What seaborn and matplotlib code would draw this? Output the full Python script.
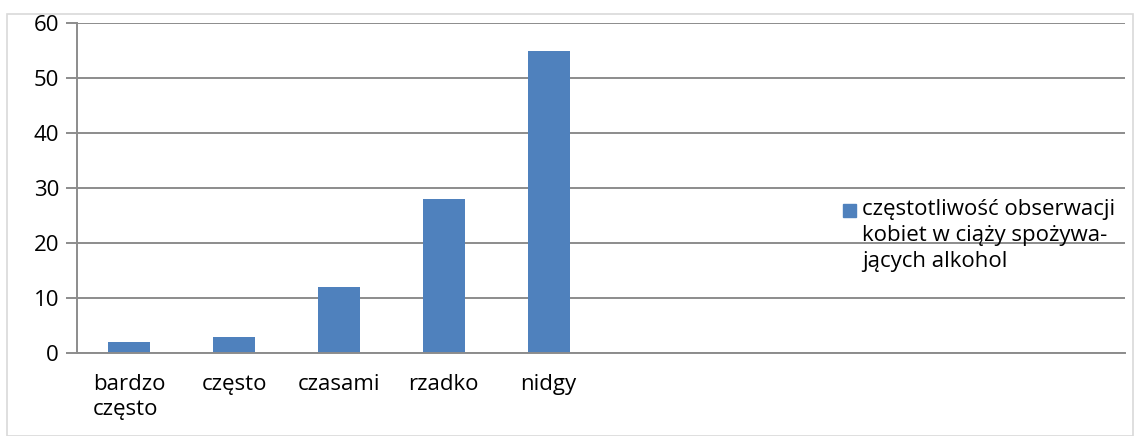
import matplotlib
matplotlib.use("Agg")
import matplotlib.pyplot as plt
import matplotlib.patches as mpatches
import seaborn as sns
import pandas as pd
import numpy as np

# ==============================
# DATA
# ==============================
categories = ["bardzo\nczęsto", "często", "czasami", "rzadko", "nidgy"]
values = [2, 3, 12, 28, 55]
n_slots = 10
series_name = "częstotliwość obserwacji\nkobiet w ciąży spożywa-\njących alkohol"
yticks = [0, 10, 20, 30, 40, 50, 60]

df = pd.DataFrame({"kategoria": categories, "wartosc": values})

# ==============================
# STYLE
# ==============================
sns.set_style("white")
plt.rcParams['font.family'] = ['Open Sans', 'DejaVu Sans']
plt.rcParams['text.color'] = "black"
plt.rcParams['xtick.color'] = "black"
plt.rcParams['ytick.color'] = "black"
grey = "#8c8c8c"
blue = "#4F81BD"
fs = 16

fig = plt.figure(figsize=(11.37, 4.36), dpi=100)
fig.patches.append(mpatches.Rectangle((7 / 1137, 0), 1126 / 1137, 1 - 14 / 436,
                                      transform=fig.transFigure, fill=False,
                                      edgecolor="#d9d9d9", linewidth=1.2))
ax = fig.add_axes([77 / 1137, 1 - 353 / 436, 1048 / 1137, 330 / 436])

sns.barplot(data=df, x="kategoria", y="wartosc", color=blue, width=0.4,
            saturation=1, linewidth=0, ax=ax)

ax.set_xlim(-0.5, n_slots - 0.5)
ax.set_ylim(0, 60)
ax.set_yticks(yticks)
ax.yaxis.grid(True, color=grey, linewidth=1.4)
ax.set_axisbelow(True)

# x ticks: labels in centres, tick marks on category borders
ax.set_xticks(range(len(categories)))
ax.set_xticklabels(categories, fontsize=fs, linespacing=1.25, va="top",
                   multialignment="left")
ax.set_xticks(np.arange(-0.5, n_slots, 1.0), minor=True)
ax.tick_params(axis="x", which="major", length=0, pad=15, labelcolor="black")
ax.tick_params(axis="x", which="minor", length=9, width=1.4, color=grey)
ax.tick_params(axis="y", length=8, width=1.4, color=grey, labelsize=fs, pad=5,
               left=True, labelcolor="black")

ax.set_xlabel("")
ax.set_ylabel("")
for side in ["top", "right"]:
    ax.spines[side].set_visible(False)
for side in ["left", "bottom"]:
    ax.spines[side].set_color(grey)
    ax.spines[side].set_linewidth(1.4)

# legend: square next to the first line of the series name
fig.patches.append(mpatches.Rectangle((843 / 1137, 1 - 217 / 436), 13 / 1137, 13 / 436,
                                      transform=fig.transFigure, color=blue))
fig.text(862 / 1137, 1 - 199 / 436, series_name, fontsize=fs, va="top",
         ha="left", linespacing=1.3, color="black")

plt.savefig("out.png", dpi=100)
